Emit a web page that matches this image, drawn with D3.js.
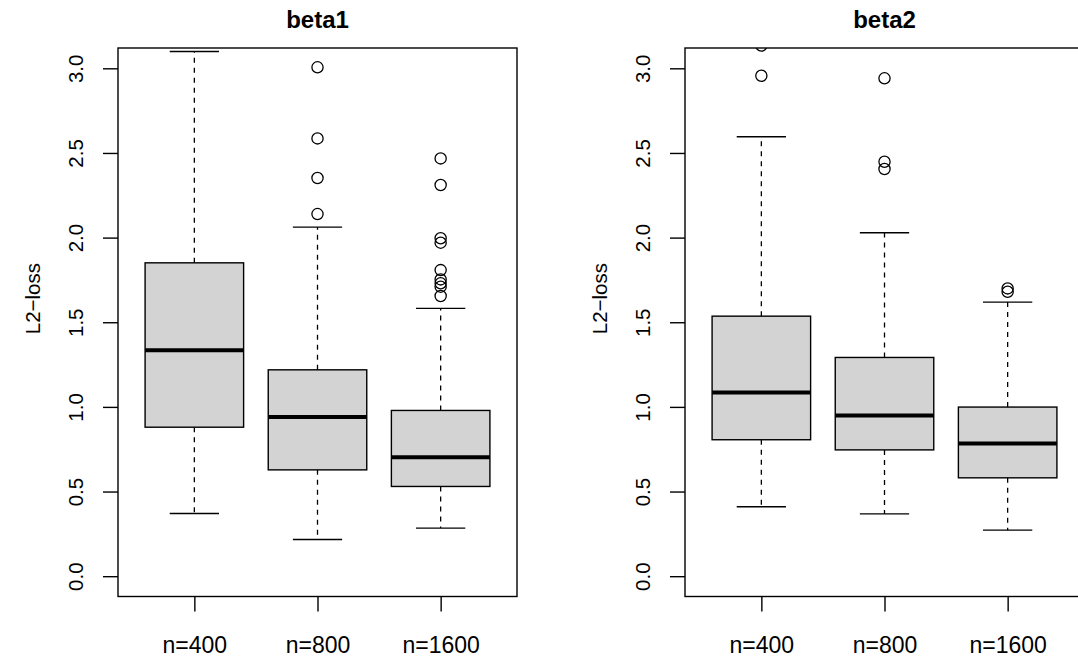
<!DOCTYPE html>
<html>
<head>
<meta charset="utf-8">
<script src="https://cdn.jsdelivr.net/npm/d3@7"></script>
<style>
  body { margin: 0; background: #fff; }
  svg { display: block; font-family: "Liberation Sans", Arial, sans-serif; }
</style>
</head>
<body>
<div id="chart"></div>
<script>
// groups on the x axis
const groups = ["n=400", "n=800", "n=1600"];
const yTicks = [0, 0.5, 1, 1.5, 2, 2.5, 3];

// beta1 box stats
const beta1Low = [0.370, 0.217, 0.284];
const beta1Q1 = [0.880, 0.628, 0.530];
const beta1Median = [1.334, 0.941, 0.703];
const beta1Q3 = [1.851, 1.219, 0.979];
const beta1High = [3.099, 2.062, 1.582];
const beta1Outliers = [
  [],
  [3.006, 2.586, 2.352, 2.139],
  [2.468, 2.311, 1.996, 1.970, 1.808, 1.753, 1.730, 1.710, 1.655]
];

// beta2 box stats
const beta2Low = [0.410, 0.368, 0.272];
const beta2Q1 = [0.806, 0.746, 0.581];
const beta2Median = [1.085, 0.949, 0.784];
const beta2Q3 = [1.536, 1.292, 0.999];
const beta2High = [2.596, 2.029, 1.619];
const beta2Outliers = [
  [3.135, 2.956],
  [2.941, 2.448, 2.405],
  [1.700, 1.680]
];

const W = 1078, H = 661;
const plotTop = 48, plotBottom = 596.5;

const svg = d3.select("#chart").append("svg")
  .attr("width", W).attr("height", H);

function panel(id, title, left, low, q1, med, q3, high, outs) {
  let width = 399;
  let x = d3.scaleLinear().domain([0.38, 3.62]).range([left, left + width]);
  let y = d3.scaleLinear().domain([-0.12, 3.12]).range([plotBottom, plotTop]);

  let stats = groups.map((g, i) => ({
    i: i + 1, low: low[i], q1: q1[i], med: med[i], q3: q3[i], high: high[i], outs: outs[i]
  }));

  svg.append("clipPath").attr("id", "clip" + id)
    .append("rect")
    .attr("x", left).attr("y", plotTop)
    .attr("width", width).attr("height", plotBottom - plotTop);

  let g = svg.append("g").attr("clip-path", `url(#clip${id})`);

  let box = g.selectAll("g.box").data(stats).enter().append("g").attr("class", "box");

  // whiskers (dashed)
  box.append("line")
    .attr("x1", d => x(d.i)).attr("x2", d => x(d.i))
    .attr("y1", d => y(d.q3)).attr("y2", d => y(d.high))
    .attr("stroke", "#000").attr("stroke-width", 1.3).attr("stroke-dasharray", "5,5");
  box.append("line")
    .attr("x1", d => x(d.i)).attr("x2", d => x(d.i))
    .attr("y1", d => y(d.q1)).attr("y2", d => y(d.low))
    .attr("stroke", "#000").attr("stroke-width", 1.3).attr("stroke-dasharray", "5,5");

  // staples
  ["high", "low"].forEach(k => {
    box.append("line")
      .attr("x1", d => x(d.i - 0.2)).attr("x2", d => x(d.i + 0.2))
      .attr("y1", d => y(d[k])).attr("y2", d => y(d[k]))
      .attr("stroke", "#000").attr("stroke-width", 1.4);
  });

  // box
  box.append("rect")
    .attr("x", d => x(d.i - 0.4))
    .attr("width", d => x(d.i + 0.4) - x(d.i - 0.4))
    .attr("y", d => y(d.q3))
    .attr("height", d => y(d.q1) - y(d.q3))
    .attr("fill", "#d3d3d3").attr("stroke", "#000").attr("stroke-width", 1.4);

  // median
  box.append("line")
    .attr("x1", d => x(d.i - 0.4)).attr("x2", d => x(d.i + 0.4))
    .attr("y1", d => y(d.med)).attr("y2", d => y(d.med))
    .attr("stroke", "#000").attr("stroke-width", 4);

  // outliers
  box.selectAll("circle").data(d => d.outs.map(v => ({ i: d.i, v })))
    .enter().append("circle")
    .attr("cx", d => x(d.i)).attr("cy", d => y(d.v))
    .attr("r", 5.6)
    .attr("fill", "none").attr("stroke", "#000").attr("stroke-width", 1.3);

  // plot frame
  svg.append("rect")
    .attr("x", left).attr("y", plotTop)
    .attr("width", width).attr("height", plotBottom - plotTop)
    .attr("fill", "none").attr("stroke", "#000").attr("stroke-width", 1.4);

  // y axis
  let ya = svg.append("g")
    .attr("transform", `translate(${left},0)`)
    .call(d3.axisLeft(y).tickValues(yTicks).tickSize(15).tickFormat(d3.format(".1f")));
  ya.select(".domain").remove();
  ya.selectAll(".tick line").attr("stroke-width", 1.4);
  ya.selectAll(".tick text")
    .attr("transform", "rotate(-90)")
    .attr("x", 0).attr("y", -35).attr("dy", null)
    .attr("text-anchor", "middle")
    .attr("font-size", "20.5px")
    .attr("font-family", null);

  // x axis
  let xa = svg.append("g")
    .attr("transform", `translate(0,${plotBottom})`)
    .call(d3.axisBottom(x).tickValues([1, 2, 3]).tickSize(15).tickFormat((d, i) => groups[i]));
  xa.select(".domain").remove();
  xa.selectAll(".tick line").attr("stroke-width", 1.4);
  xa.selectAll(".tick text")
    .attr("y", 56.5).attr("dy", null)
    .attr("font-size", "23px")
    .attr("font-family", null);

  // y label
  svg.append("text")
    .attr("transform", `translate(${left - 78},${y(1.5) + 12}) rotate(-90)`)
    .attr("text-anchor", "start")
    .attr("font-size", "20.5px")
    .text("L2\u2212loss");

  // title
  svg.append("text")
    .attr("x", (x.range()[0] + x.range()[1]) / 2)
    .attr("y", 28)
    .attr("text-anchor", "middle")
    .attr("font-weight", "bold")
    .attr("font-size", "24px")
    .text(title);
}

panel(1, "beta1", 118, beta1Low, beta1Q1, beta1Median, beta1Q3, beta1High, beta1Outliers);
panel(2, "beta2", 685, beta2Low, beta2Q1, beta2Median, beta2Q3, beta2High, beta2Outliers);
</script>
</body>
</html>
